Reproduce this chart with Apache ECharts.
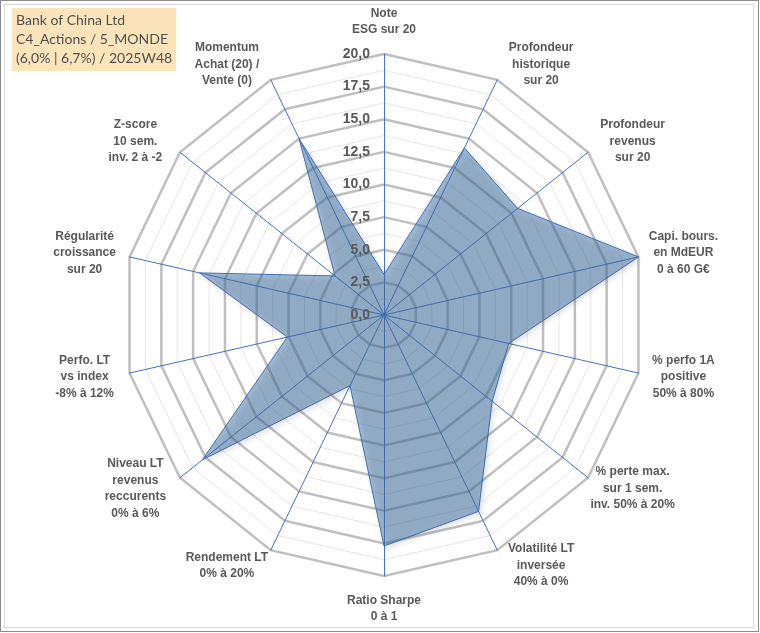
<!DOCTYPE html>
<html><head><meta charset="utf-8">
<script src="https://cdn.jsdelivr.net/npm/echarts@6/dist/echarts.min.js"></script>
<style>
html,body{margin:0;padding:0;background:#fff}
#wrap{position:relative;width:760px;height:633px;overflow:hidden}
#chart{position:absolute;left:0;top:0;width:760px;height:633px}
#b1{position:absolute;left:0;top:0;width:757px;height:630px;border:1px solid #8c8c8c;pointer-events:none}
#b2{position:absolute;left:4px;top:4px;width:748px;height:622px;border:1px solid #dadada;pointer-events:none}
</style></head><body>
<div id="wrap"><div id="chart"></div><div id="b1"></div><div id="b2"></div></div>
<script>
// Reference order, clockwise from the top
const categories = [
  'Note\nESG sur 20',
  'Profondeur\nhistorique\nsur 20',
  'Profondeur\nrevenus\nsur 20',
  'Capi. bours.\nen MdEUR\n0 à 60 G€',
  '% perfo 1A\npositive\n50% à 80%',
  '% perte max.\nsur 1 sem.\ninv. 50% à 20%',
  'Volatilité LT\ninversée\n40% à 0%',
  'Ratio Sharpe\n0 à 1',
  'Rendement LT\n0% à 20%',
  'Niveau LT\nrevenus\nreccurents\n0% à 6%',
  'Perfo. LT\nvs index\n-8% à 12%',
  'Régularité\ncroissance\nsur 20',
  'Z-score\n10 sem.\ninv. 2 à -2',
  'Momentum\nAchat (20) /\nVente (0)'
];
const scores = [3.1, 14.2, 13.1, 20.0, 9.8, 10.6, 16.7, 17.7, 6.0, 17.8, 7.6, 14.5, 4.8, 15.0];
const tickLabels = ['0,0','2,5','5,0','7,5','10,0','12,5','15,0','17,5','20,0'];
const titleLines = ['Bank of China Ltd', 'C4_Actions / 5_MONDE', '(6,0% | 6,7%) / 2025W48'];
const scaleMax = 20;

// ECharts radar runs counter-clockwise: keep first, reverse the rest
const order = [0].concat(categories.map((_, i) => i).slice(1).reverse());
const indNamed = order.map(i => ({ name: categories[i], min: 0, max: scaleMax }));
const indBlank = order.map(i => ({ name: '', min: 0, max: scaleMax }));
const vals = order.map(i => scores[i]);

const CX = 384, CY = 315, R = 261;
const FONT = '"Liberation Sans", Arial, sans-serif';

// label styles: centred lines + spacer lines of various heights (push labels vertically outward)
const rich = {
  c: { width: 86, align: 'center', lineHeight: 16.5, fontSize: 12, fontWeight: 'bold', color: '#595959', fontFamily: FONT }
};
for (let h = 1; h <= 40; h++) rich['h' + h] = { lineHeight: h, fontSize: 1 };

function nameFormatter(name) {
  const idx = categories.indexOf(name);
  const theta = idx * 2 * Math.PI / categories.length;
  const c = Math.cos(theta);
  let s = name.split('\n').map(l => '{c|' + l + '}').join('\n');
  let h;
  if (Math.abs(Math.abs(c) - 1) < 1e-6) {
    h = 14;
  } else {
    h = Math.round(30 * Math.abs(c));
  }
  if (h >= 1) {
    if (c > 0) s = s + '\n{h' + h + '| }';
    else s = '{h' + h + '| }\n' + s;
  }
  return s;
}

const chart = echarts.init(document.getElementById('chart'));
chart.setOption({
  animation: false,
  backgroundColor: '#ffffff',
  title: {
    text: titleLines.join('\n'),
    left: 12, top: 8,
    backgroundColor: '#FCE4BA',
    padding: [3, 4, 3, 4],
    textStyle: { fontFamily: 'Lato, "Open Sans", sans-serif', fontSize: 14, fontWeight: 'normal', color: '#505050', lineHeight: 19 }
  },
  radar: [
    {
      center: [CX, CY], radius: R, startAngle: 90, splitNumber: 16, shape: 'polygon',
      indicator: indBlank,
      axisName: { show: false },
      axisLine: { show: false }, axisTick: { show: false }, axisLabel: { show: false },
      splitArea: { show: false },
      splitLine: { lineStyle: { color: '#e6e6e6', width: 1 } }
    },
    {
      center: [CX, CY], radius: R, startAngle: 90, splitNumber: 8, shape: 'polygon',
      indicator: indNamed,
      nameGap: 2,
      axisName: {
        color: '#595959', fontFamily: FONT, fontWeight: 'bold', fontSize: 12,
        formatter: nameFormatter,
        rich: rich
      },
      axisLine: { lineStyle: { color: '#4472C4', width: 1 } },
      axisTick: { show: false }, axisLabel: { show: false },
      splitArea: { show: false },
      splitLine: { lineStyle: { color: '#bfbfbf', width: 2.5 } }
    }
  ],
  polar: { center: [CX, CY], radius: R },
  angleAxis: { show: false, startAngle: 90, min: 0, max: 360 },
  radiusAxis: {
    min: 0, max: scaleMax, interval: 2.5, z: 10,
    axisLine: { show: false }, axisTick: { show: false }, splitLine: { show: false },
    axisLabel: {
      margin: 14, fontSize: 14, fontWeight: 'bold', color: '#595959', fontFamily: FONT,
      formatter: v => tickLabels[Math.round(v / 2.5)]
    }
  },
  series: [{
    type: 'radar', radarIndex: 1, symbol: 'none', z: 2,
    lineStyle: { color: '#4472C4', width: 1 },
    areaStyle: { color: 'rgba(69,121,174,0.7)', shadowBlur: 6, shadowColor: 'rgba(0,0,0,0.3)', shadowOffsetX: 2, shadowOffsetY: 2 },
    data: [{ value: vals }]
  }]
});
</script>
</body></html>
